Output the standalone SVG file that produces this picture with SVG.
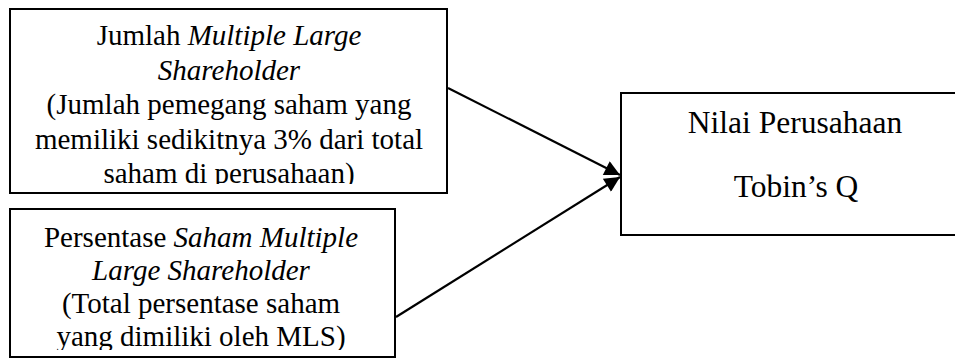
<svg xmlns="http://www.w3.org/2000/svg" width="955" height="358" viewBox="0 0 955 358">
  <style>
    .box { fill: #ffffff; stroke: #000000; stroke-width: 2; }
    .txt { font-family: "Liberation Serif", "Times New Roman", serif; font-size: 29px; fill: #000000; text-anchor: middle; }
    .big { font-size: 31.5px; }
    .it { font-style: italic; }
    .conn { stroke: #000000; stroke-width: 2.2; fill: none; marker-end: url(#head); }
  </style>
  <defs>
    <marker id="head" viewBox="0 0 10 10" refX="10" refY="5" markerWidth="8" markerHeight="7" markerUnits="strokeWidth" orient="auto">
      <path d="M0,0 L10,5 L0,10 Z" fill="#000000"/>
    </marker>
    <clipPath id="clip1"><rect x="11" y="10" width="435" height="174"/></clipPath>
    <clipPath id="clip2"><rect x="11" y="210" width="384" height="140"/></clipPath>
  </defs>

  <g id="jumlah-mls">
    <rect class="box" x="10" y="9" width="437" height="184"/>
    <g clip-path="url(#clip1)">
      <text class="txt" x="229" y="45">Jumlah <tspan class="it">Multiple Large</tspan></text>
      <text class="txt it" x="229" y="80">Shareholder</text>
      <text class="txt" x="229" y="114">(Jumlah pemegang saham yang</text>
      <text class="txt" x="229" y="149">memiliki sedikitnya 3% dari total</text>
      <text class="txt" x="229" y="183">saham di perusahaan)</text>
    </g>
  </g>

  <g id="persentase-mls">
    <rect class="box" x="10" y="209" width="385" height="148"/>
    <g clip-path="url(#clip2)">
      <text class="txt" x="201" y="247">Persentase <tspan class="it">Saham Multiple</tspan></text>
      <text class="txt it" x="201" y="280">Large Shareholder</text>
      <text class="txt" x="201" y="313">(Total persentase saham</text>
      <text class="txt" x="201" y="346">yang dimiliki oleh MLS)</text>
    </g>
  </g>

  <g id="nilai-perusahaan">
    <rect class="box" x="621" y="93" width="345" height="142"/>
    <text class="txt big" x="795" y="133">Nilai Perusahaan</text>
    <text class="txt big" x="796" y="197">Tobin’s Q</text>
  </g>

  <g id="connectors">
    <line class="conn" x1="448" y1="88" x2="620" y2="175"/>
    <line class="conn" x1="396" y1="317" x2="620" y2="177"/>
  </g>
</svg>
